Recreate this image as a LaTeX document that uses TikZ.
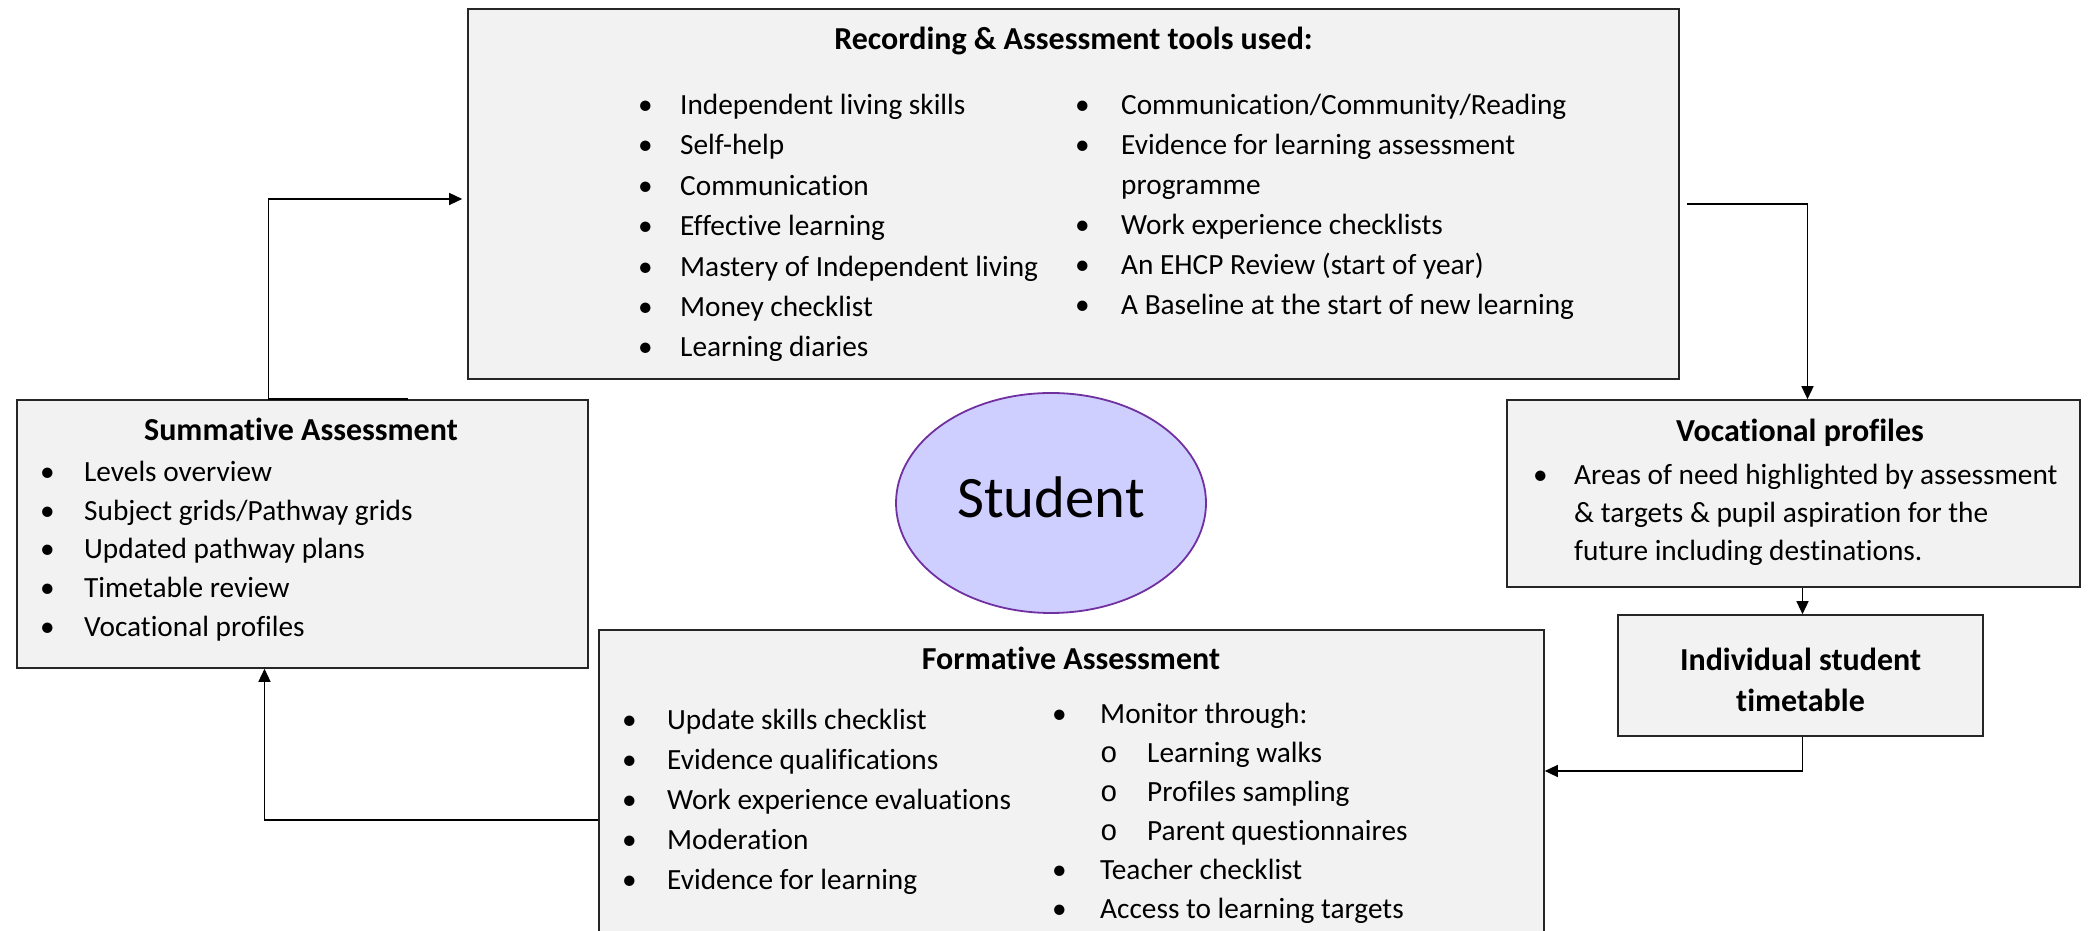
\documentclass[tikz,border=0pt]{standalone}
\usepackage{fontspec}
\setmainfont{Carlito}[Ligatures=NoCommon]
\setmonofont{Liberation Mono}
\usetikzlibrary{shapes.geometric,arrows.meta}
\definecolor{boxgrey}{HTML}{F2F2F2}
\definecolor{lilac}{HTML}{CFCFFF}
\definecolor{plum}{HTML}{7030A0}
\newcommand{\txtsz}[1]{\fontsize{29.3}{#1}\selectfont}
\newcommand{\subit}{\makebox[47pt][l]{\texttt{o}}}
\begin{document}
\begin{tikzpicture}[x=1pt, y=1pt,
	box/.style={draw=black!85, line width=1.6pt, fill=boxgrey, inner sep=0pt},
	hd/.style={font=\fontsize{32}{40.7}\selectfont\bfseries, anchor=base, inner sep=0pt},
	lst/.style={anchor=base west, inner sep=0pt},
	link/.style={line width=1.4pt, -{Triangle[length=13pt, width=12pt]}}]
	\useasboundingbox (0,0) rectangle (2091,931);
	\clip (0,0) rectangle (2091,931);

	% boxes
	\node[box, minimum width=1211pt, minimum height=370pt] (rec) at (1073.5,737) {};
	\node[box, minimum width=571pt, minimum height=268pt] (sum) at (302.5,397) {};
	\node[box, minimum width=573pt, minimum height=187pt] (voc) at (1793.5,437.5) {};
	\node[box, minimum width=365pt, minimum height=121pt] (ind) at (1800.5,255.5) {};
	\node[box, minimum width=945pt, minimum height=340pt] (form) at (1071.5,131) {};
	\node[ellipse, draw=plum, line width=1.8pt, fill=lilac, minimum width=310pt, minimum height=220pt, text depth=12pt, font=\fontsize{58.7}{70}\selectfont] (stu) at (1051,428) {Student};

	% recording & assessment
	\node[hd] (rechd) at (1073.5,881) {Recording \& Assessment tools used:};
	\node[lst, font=\txtsz{40.4}] (recl) at (638,816.5) {\begin{tabular}[t]{@{}p{42pt}@{}l@{}}
		\textbullet & Independent living skills\\
		\textbullet & Self-help\\
		\textbullet & Communication\\
		\textbullet & Effective learning\\
		\textbullet & Mastery of Independent living\\
		\textbullet & Money checklist\\
		\textbullet & Learning diaries
	\end{tabular}};
	\node[lst, font=\txtsz{40}] (recr) at (1075,816.5) {\begin{tabular}[t]{@{}p{46pt}@{}l@{}}
		\textbullet & Communication/Community/Reading\\
		\textbullet & Evidence for learning assessment\\
		 & programme\\
		\textbullet & Work experience checklists\\
		\textbullet & An EHCP Review (start of year)\\
		\textbullet & A Baseline at the start of new learning
	\end{tabular}};

	% summative
	\node[hd] (sumhd) at (301,490) {Summative Assessment};
	\node[lst, font=\txtsz{38.7}] (suml) at (40,449.5) {\begin{tabular}[t]{@{}p{44pt}@{}l@{}}
		\textbullet & Levels overview\\
		\textbullet & Subject grids/Pathway grids\\
		\textbullet & Updated pathway plans\\
		\textbullet & Timetable review\\
		\textbullet & Vocational profiles
	\end{tabular}};

	% vocational
	\node[hd] (vochd) at (1800,489) {Vocational profiles};
	\node[lst, font=\txtsz{38}] (vocl) at (1533,446) {\begin{tabular}[t]{@{}p{41pt}@{}l@{}}
		\textbullet & Areas of need highlighted by assessment\\
		 & \& targets \& pupil aspiration for the\\
		 & future including destinations.
	\end{tabular}};

	% individual timetable
	\node[hd] (indhd) at (1800.5,260) {\begin{tabular}[t]{@{}c@{}}Individual student\\timetable\end{tabular}};

	% formative
	\node[hd] (formhd) at (1071,261) {Formative Assessment};
	\node[lst, font=\txtsz{40}] (forml) at (622,201.5) {\begin{tabular}[t]{@{}p{45pt}@{}l@{}}
		\textbullet & Update skills checklist\\
		\textbullet & Evidence qualifications\\
		\textbullet & Work experience evaluations\\
		\textbullet & Moderation\\
		\textbullet & Evidence for learning
	\end{tabular}};
	\node[lst, font=\txtsz{39}] (formr) at (1052,207.5) {\begin{tabular}[t]{@{}p{48pt}@{}l@{}}
		\textbullet & Monitor through:\\
		 & \subit Learning walks\\
		 & \subit Profiles sampling\\
		 & \subit Parent questionnaires\\
		\textbullet & Teacher checklist\\
		\textbullet & Access to learning targets
	\end{tabular}};

	% links
	\draw[link, shorten >=5pt] ([xshift=105pt]sum.north) -- ([xshift=-34pt]sum.north) |- ([yshift=-5pt]rec.west);
	\draw[link] ([shift={(7pt,-10pt)}]rec.east) -| ([xshift=14pt]voc.north);
	\draw[link] ([xshift=9pt]voc.south) -- ([xshift=9pt]voc.south |- ind.north);
	\draw[link] ([xshift=2pt]ind.south) |- ([yshift=29pt]form.east);
	\draw[link] ([yshift=-20pt]form.west) -| ([xshift=-38pt]sum.south);
\end{tikzpicture}
\end{document}
